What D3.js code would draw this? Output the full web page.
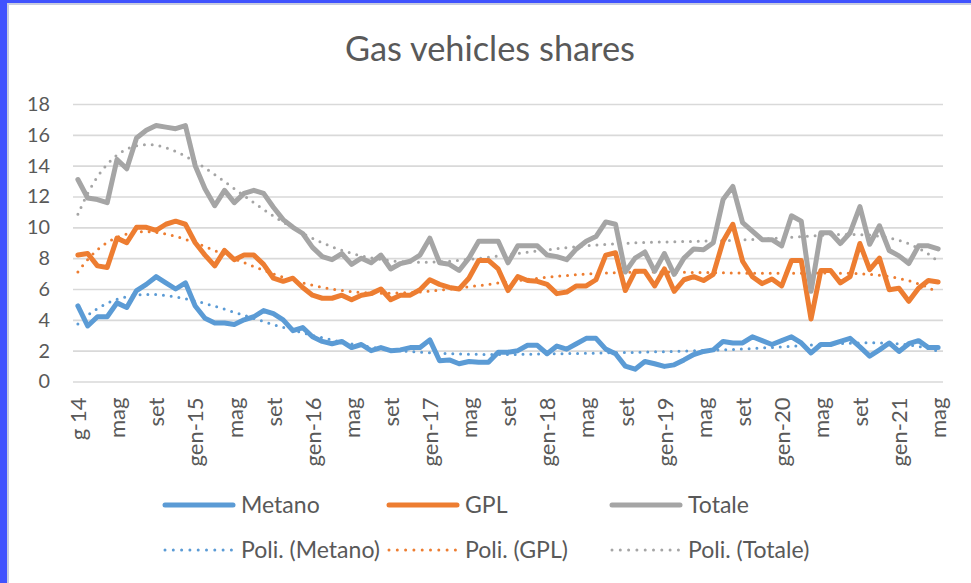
<!DOCTYPE html>
<html lang="it">
<head>
    <meta charset="UTF-8">
    <title>Gas vehicles shares</title>
    <script src="https://d3js.org/d3.v7.min.js"></script>
    <style>
        body { margin: 0; background: #fff; }
        text { font-family: Lato, "Open Sans", sans-serif; fill: #595959; }
    </style>
</head>
<body>
<svg id="chart"></svg>
<script>
    // monthly shares, gen-14 .. mag-21 (89 months)
    const metano = [4.9, 3.6, 4.2, 4.2, 5.1, 4.8, 5.9, 6.3, 6.8, 6.4, 6.0, 6.4, 4.9, 4.1, 3.8, 3.8, 3.7, 4.0, 4.2, 4.6,
        4.4, 4.0, 3.3, 3.5, 2.9, 2.6, 2.45, 2.6, 2.2,
        2.4, 2.0, 2.2, 2.0, 2.05, 2.2, 2.2, 2.7, 1.35, 1.4, 1.15, 1.3, 1.25, 1.25, 1.9, 1.9, 2.0, 2.35, 2.35, 1.8,
        2.3, 2.1, 2.45, 2.8, 2.8, 2.1, 1.8, 1.0, 0.8,
        1.3, 1.15, 0.98, 1.08, 1.4, 1.75, 1.95, 2.05, 2.6, 2.5, 2.5, 2.9, 2.65, 2.4, 2.65, 2.9, 2.5, 1.85, 2.4, 2.4,
        2.6, 2.8, 2.25, 1.65, 2.05, 2.5, 1.95, 2.45, 2.65, 2.2, 2.2];
    const gpl = [8.2, 8.3, 7.5, 7.4, 9.3, 9.0, 10.0, 10.0, 9.8, 10.2, 10.4, 10.2, 9.0, 8.2, 7.5, 8.5, 7.9, 8.2, 8.2, 7.6,
        6.7, 6.5, 6.7, 6.1, 5.6, 5.4, 5.4, 5.6, 5.3,
        5.6, 5.7, 6.0, 5.3, 5.6, 5.6, 5.95, 6.6, 6.3, 6.1, 6.0, 6.7, 7.85, 7.85, 7.3, 5.9, 6.8, 6.55, 6.5, 6.3,
        5.7, 5.8, 6.2, 6.2, 6.6, 8.2, 8.35, 5.9, 7.15,
        7.15, 6.2, 7.3, 5.85, 6.6, 6.8, 6.55, 6.95, 9.1, 10.2, 7.8, 6.8, 6.35, 6.65, 6.2, 7.85, 7.85, 4.05, 7.2, 7.2,
        6.4, 6.8, 8.95, 7.25, 8.0, 5.95, 6.05, 5.2, 6.05, 6.55, 6.45];
    const totale = [13.1, 11.9, 11.8, 11.6, 14.4, 13.8, 15.8, 16.3, 16.6, 16.5, 16.4, 16.6, 14.0, 12.5, 11.4, 12.4, 11.6, 12.2, 12.4, 12.2,
        11.3, 10.5, 10.0, 9.6, 8.7, 8.1, 7.9, 8.3, 7.6,
        8.0, 7.7, 8.2, 7.3, 7.65, 7.8, 8.2, 9.3, 7.7, 7.6, 7.2, 8.0, 9.1, 9.1, 9.1, 7.7, 8.8, 8.8, 8.8, 8.2,
        8.1, 7.9, 8.6, 9.1, 9.4, 10.35, 10.2, 7.1, 8.0,
        8.4, 7.15, 8.3, 6.95, 8.0, 8.6, 8.55, 9.0, 11.8, 12.65, 10.3, 9.75, 9.2, 9.2, 8.8, 10.75, 10.4, 5.85, 9.65, 9.65,
        8.95, 9.65, 11.35, 8.9, 10.1, 8.5, 8.15, 7.65, 8.8, 8.8, 8.6];

    // one label every 4 months
    const tickLabels = ["g 14", "mag", "set", "gen-15", "mag", "set", "gen-16", "mag", "set", "gen-17", "mag", "set",
        "gen-18", "mag", "set", "gen-19", "mag", "set", "gen-20", "mag", "set", "gen-21", "mag"];
    const yTicks = [0, 2, 4, 6, 8, 10, 12, 14, 16, 18];

    const seriesNames = ["Metano", "GPL", "Totale"];
    const colors = ["#5B9BD5", "#ED7D31", "#A5A5A5"];
    const seriesData = [metano, gpl, totale];

    const W = 971, H = 583;
    const svg = d3.select("#chart").attr("width", W).attr("height", H);

    // frame (blue edge on top / left as in the screenshot)
    svg.append("rect").attr("width", W).attr("height", H).attr("fill", "#4052FE");
    svg.append("rect").attr("x", 8).attr("y", 4).attr("width", W).attr("height", H)
        .attr("fill", "#fff").attr("stroke", "#C8CCE0").attr("stroke-width", 2);

    // helper: font size that makes str about targetW wide
    function sizeFor(str, targetW, base = 20) {
        const t = svg.append("text").attr("font-size", base).text(str);
        const len = t.node().getComputedTextLength();
        t.remove();
        return base * targetW / len;
    }

    const x = d3.scaleLinear().domain([-0.5, metano.length - 0.5]).range([73, 943]);
    const y = d3.scaleLinear().domain([0, 18]).range([381.5, 104]);

    // title
    svg.append("text")
        .attr("x", 490).attr("y", 61)
        .attr("text-anchor", "middle")
        .attr("font-size", sizeFor("Gas vehicles shares", 290))
        .text("Gas vehicles shares");

    // y axis + gridlines
    const yFont = sizeFor("18", 23);
    const yAxis = svg.append("g")
        .attr("transform", `translate(${x.range()[0]},0)`)
        .call(d3.axisLeft(y).tickValues(yTicks).tickSize(-(x.range()[1] - x.range()[0])).tickPadding(23));
    yAxis.select(".domain").remove();
    yAxis.selectAll("line").attr("stroke", "#D9D9D9").attr("stroke-width", 1.6);
    yAxis.selectAll("text").attr("font-size", yFont).attr("fill", "#595959").attr("font-family", null);

    // x axis (rotated labels)
    const xFont = sizeFor("gen-15", 69);
    const xAxis = svg.append("g")
        .attr("transform", `translate(0,${y(0)})`)
        .call(d3.axisBottom(x)
            .tickValues(tickLabels.map((d, i) => i * 4))
            .tickFormat((d, i) => tickLabels[i])
            .tickSize(0));
    xAxis.select(".domain").remove();
    xAxis.selectAll("text")
        .attr("font-size", xFont).attr("fill", "#595959").attr("font-family", null)
        .attr("transform", "rotate(-90)")
        .attr("text-anchor", "end")
        .attr("x", -16).attr("y", 0).attr("dy", "0.35em");

    // polynomial trendline (order 6, least squares) like Excel's "Poli."
    function polyFit(ys, order) {
        const n = ys.length, mid = (n - 1) / 2, m = order + 1;
        const ts = ys.map((_, i) => (i - mid) / mid);
        const A = Array.from({length: m}, () => new Array(m + 1).fill(0));
        ts.forEach((t, k) => {
            for (let r = 0; r < m; r++) {
                for (let c = 0; c < m; c++) A[r][c] += Math.pow(t, r + c);
                A[r][m] += Math.pow(t, r) * ys[k];
            }
        });
        for (let p = 0; p < m; p++) {
            let best = p;
            for (let r = p + 1; r < m; r++) if (Math.abs(A[r][p]) > Math.abs(A[best][p])) best = r;
            [A[p], A[best]] = [A[best], A[p]];
            for (let r = 0; r < m; r++) {
                if (r === p) continue;
                const f = A[r][p] / A[p][p];
                for (let c = p; c <= m; c++) A[r][c] -= f * A[p][c];
            }
        }
        const coef = A.map((row, i) => row[m] / row[i]);
        return ys.map((_, i) => {
            const t = (i - mid) / mid;
            return coef.reduce((s, c, j) => s + c * Math.pow(t, j), 0);
        });
    }

    const line = d3.line().x((d, i) => x(i)).y(d => y(d));
    const smooth = d3.line().x((d, i) => x(i)).y(d => y(d)).curve(d3.curveCatmullRom);

    // trendlines under the data lines
    seriesData.forEach((s, k) => {
        svg.append("path")
            .datum(polyFit(s, 6))
            .attr("d", smooth)
            .attr("fill", "none")
            .attr("stroke", colors[k])
            .attr("stroke-width", 3)
            .attr("stroke-linecap", "round")
            .attr("stroke-dasharray", "0 7.8");
    });

    seriesData.forEach((s, k) => {
        svg.append("path")
            .datum(s)
            .attr("d", line)
            .attr("fill", "none")
            .attr("stroke", colors[k])
            .attr("stroke-width", 5)
            .attr("stroke-linejoin", "round")
            .attr("stroke-linecap", "round");
    });

    // legend: 2 rows x 3 columns
    const legFont = sizeFor("Poli. (Metano)", 139);
    const colX = [163, 387, 610];
    const rowY = [505, 550];
    seriesNames.forEach((name, k) => {
        [0, 1].forEach(row => {
            const g = svg.append("g").attr("transform", `translate(${colX[k]},${rowY[row]})`);
            g.append("line")
                .attr("x1", 2).attr("x2", row ? 70 : 70)
                .attr("stroke", colors[k])
                .attr("stroke-width", row ? 3 : 5)
                .attr("stroke-linecap", "round")
                .attr("stroke-dasharray", row ? "0 8.3" : null);
            g.append("text")
                .attr("x", 78).attr("dy", "0.35em")
                .attr("font-size", legFont)
                .text(row ? `Poli. (${name})` : name);
        });
    });
</script>
</body>
</html>
